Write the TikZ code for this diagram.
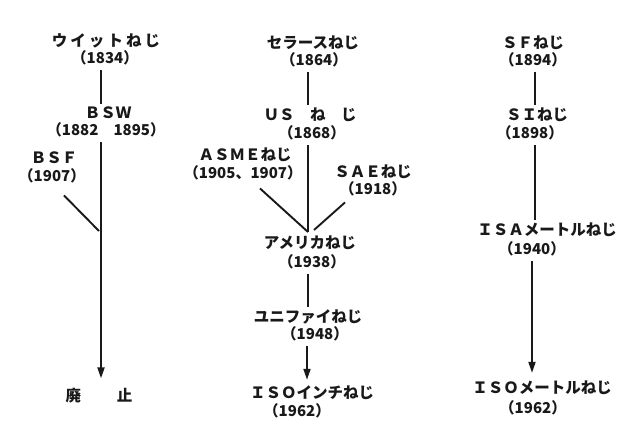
\documentclass[tikz,border=0pt]{standalone}
\usepackage{fontspec}
\setmainfont{Noto Sans CJK JP}
\usetikzlibrary{arrows.meta,calc}
\tikzset{
  lbl/.style={inner sep=0pt, font=\fontsize{15.5}{17}\selectfont\bfseries, text=black!90},
  yr/.style={inner sep=0pt, font=\fontsize{15}{17}\selectfont\bfseries, text=black!90},
  conn/.style={line width=1.9pt, draw=black!90},
  arr/.style={conn, -{Triangle[length=11pt,width=7pt]}}
}
\begin{document}
\begin{tikzpicture}[x=1pt,y=-1pt]
\useasboundingbox[fill=white] (0,0) rectangle (628,435);
% left column
\node[lbl] (wit)  at (106,41)  {\addfontfeatures{LetterSpace=20}ウイットねじ};
\node[yr]  (wity) at (105,58)  {（1834）};
\node[lbl] (bsw)  at (108,113) {ＢＳＷ};
\node[yr]  (bswy) at (106,130) {（1882　1895）};
\node[lbl] (bsf)  at (54,158)  {ＢＳＦ};
\node[yr]  (bsfy) at (52,176)  {（1907）};
\node[lbl] (hai)  at (99,396)  {廃\hspace{36pt}止};
\coordinate (Lx) at (101,0);
\coordinate (bsfj) at (99,231);
\draw[conn] (Lx |- wity.south) ++(0,5) -- ($(Lx |- bsw.north)+(0,-3)$);
\draw[arr]  (Lx |- bswy.south) ++(0,5) -- ($(Lx |- hai.north)+(0,-10)$);
\draw[conn] ($(bsfy.south)+(12,12)$) -- (bsfj);
% middle column
\node[lbl] (sel)  at (313,43)  {セラースねじ};
\node[yr]  (sely) at (314,60)  {（1864）};
\node[lbl] (us)   at (310,115) {ＵＳ　ね　じ};
\node[yr]  (usy)  at (312,133) {（1868）};
\node[lbl] (asme) at (245,155) {ＡＳＭＥねじ};
\node[yr]  (asmey) at (243,173) {（1905、1907）};
\node[lbl] (sae)  at (373,172) {ＳＡＥねじ};
\node[yr]  (saey) at (373,189) {（1918）};
\node[lbl] (ame)  at (310,243) {アメリカねじ};
\node[yr]  (amey) at (312,262) {（1938）};
\node[lbl] (uni)  at (308,317) {ユニファイねじ};
\node[yr]  (uniy) at (315,334) {（1948）};
\node[lbl] (isoi) at (312,393) {ＩＳＯインチねじ};
\node[yr]  (isoiy) at (297,411) {（1962）};
\coordinate (Mx) at (308,0);
\coordinate (mj) at (308,232);
\draw[conn] (Mx |- sely.south) ++(0,5) -- ($(Mx |- us.north)+(0,-3)$);
\draw[conn] (Mx |- usy.south) ++(0,5) -- (mj);
\draw[conn] ($(asmey.south)+(17,8)$) -- (mj);
\draw[conn] ($(saey.south)+(-28,6)$) -- ($(mj)+(6,-2)$);
\draw[conn] (Mx |- amey.south) ++(0,5) -- ($(Mx |- uni.north)+(0,-3)$);
\draw[arr]  ($(Mx |- uniy.south)+(-1,5)$) -- ($(Mx |- isoi.north)+(-1,-6)$);
% right column
\node[lbl] (sf)   at (533,43)  {ＳＦねじ};
\node[yr]  (sfy)  at (533,60)  {（1894）};
\node[lbl] (si)   at (537,115) {ＳＩねじ};
\node[yr]  (siy)  at (530,133) {（1898）};
\node[lbl] (isa)  at (547,230) {ＩＳＡメートルねじ};
\node[yr]  (isay) at (532,249) {（1940）};
\node[lbl] (isom) at (542,388) {ＩＳＯメートルねじ};
\node[yr]  (isomy) at (533,408) {（1962）};
\coordinate (Rx) at (535,0);
\draw[conn] (Rx |- sfy.south) ++(0,5) -- ($(Rx |- si.north)+(0,-3)$);
\draw[conn] (Rx |- siy.south) ++(0,5) -- ($(Rx |- isa.north)+(0,-3)$);
\draw[arr]  ($(Rx |- isay.south)+(-3,5)$) -- ($(Rx |- isom.north)+(-3,-8)$);
\end{tikzpicture}
\end{document}
